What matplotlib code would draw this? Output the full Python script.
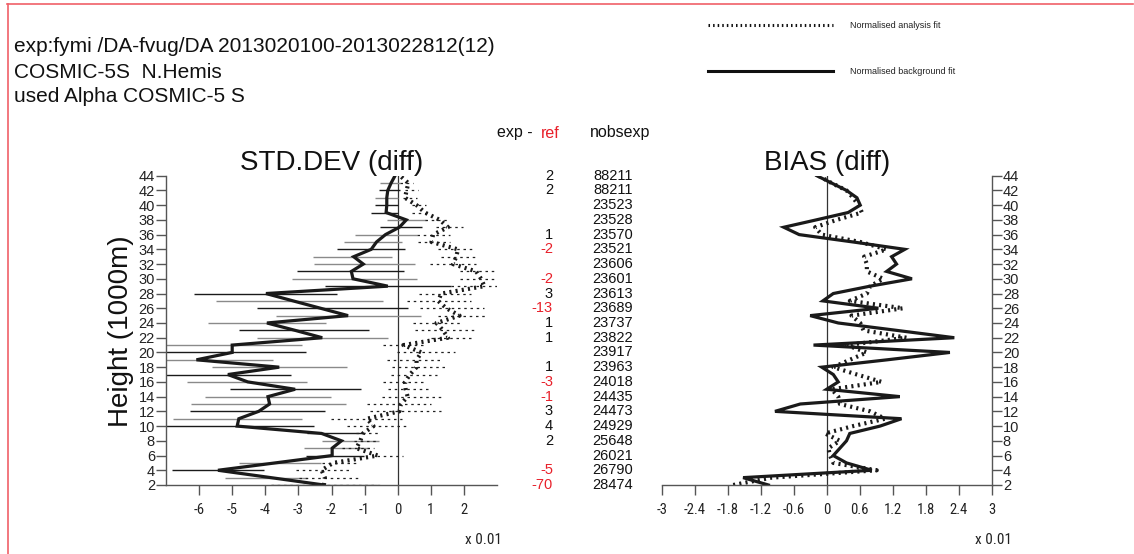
import numpy as np
import matplotlib
matplotlib.use("Agg")
import matplotlib.pyplot as plt
from matplotlib.transforms import blended_transform_factory
from matplotlib.lines import Line2D
from matplotlib import font_manager

plt.rcParams['font.family'] = ['Liberation Sans', 'DejaVu Sans']

# ---------------- data (levels 2..44, unit 0.01) ----------------
levels = list(range(2, 45))

bg_std = [-2.23, -3.83, -5.43, -3.7, -1.98, -1.98, -1.7, -2.3, -4.85, -4.8,
          -4.2, -3.87, -3.92, -3.1, -4.53, -5.13, -3.58, -6.08, -5.0, -5.0,
          -2.28, -3.1, -3.95, -1.5, -2.33, -3.16, -3.98, -0.3, -1.35, -1.4,
          -1.04, -1.33, -0.8, -0.64, -0.37, 0.05, 0.26, -0.35, -0.33, -0.33,
          -0.3, -0.2, -0.08]
bg_std_lo = [-3.83, -5.23, -6.83, -4.8, -2.76, -2.83, -2.28, -2.73, -7.0, -6.78,
             -6.28, -6.23, -5.83, -5.06, -6.38, -7.0, -5.61, -7.0, -7.0, -7.0,
             -4.25, -4.78, -5.73, -3.68, -4.26, -5.5, -6.16, -2.2, -3.18, -3.03,
             -2.53, -2.55, -1.83, -1.63, -1.28, -0.53, -0.33, -0.8, -0.68, -0.68,
             -0.58, -0.53, np.nan]
bg_std_hi = [-0.63, -2.73, -4.03, -2.33, -1.03, -0.88, -0.58, -1.0, -2.53, -2.88,
             -2.2, -1.55, -2.01, -1.11, -2.73, -3.21, -1.53, -3.78, -2.76, -2.88,
             -0.28, -0.86, -2.18, 0.69, 0.32, -0.45, -1.83, 1.6, 0.57, 0.2,
             0.52, -0.18, 0.22, 0.12, 0.57, 0.72, 0.87, 0.02, 0.02, 0.02,
             0.07, 0.07, np.nan]
bg_bar_gray = [1, 1, 0, 1, 0, 1, 1, 0, 0, 1,
               0, 1, 1, 0, 1, 0, 1, 1, 0, 1,
               1, 0, 1, 1, 0, 1, 0, 0, 1, 0,
               1, 1, 0, 1, 1, 0, 1, 0, 0, 1,
               0, 1, 0]

an_std = [-2.23, -2.2, -2.3, -1.95, -0.6, -1.25, -1.13, -1.05, -0.73, -0.93,
          0.05, 0.1, 0.3, 0.24, 0.22, 0.37, 0.57, 0.57, 0.72, 0.17,
          1.52, 1.37, 1.17, 1.87, 1.47, 1.22, 1.32, 2.62, 2.52, 2.37,
          1.67, 1.77, 1.82, 1.02, 1.07, 1.52, 1.27, 0.82, 0.57, 0.22,
          0.27, 0.32, 0.07]
an_std_lo = [-3.83, -2.98, -3.08, -2.3, -0.63, -1.68, -1.33, -1.25, -1.53, -2.01,
             -0.83, -0.93, -0.48, -0.28, -0.45, -0.2, -0.18, -0.33, -0.03, -0.43,
             1.02, 0.52, 0.47, 1.22, 0.67, 0.27, 0.65, 1.62, 1.87, 1.87,
             0.97, 1.32, 1.22, 0.62, 0.57, 1.17, 0.82, 0.42, 0.42, 0.17,
             0.22, 0.07, np.nan]
an_std_hi = [-0.48, -1.13, -1.48, -1.2, 0.15, -0.73, -0.58, -0.6, 0.27, 0.12,
             1.32, 1.02, 1.32, 0.97, 0.8, 1.2, 1.42, 1.27, 1.72, 0.87,
             2.27, 2.32, 1.87, 2.67, 2.62, 2.22, 2.22, 3.0, 3.0, 3.0,
             2.37, 2.37, 2.32, 1.57, 1.57, 1.97, 1.57, 0.92, 0.87, 0.57,
             0.62, 0.47, np.nan]

bg_bias = [-1.06, -1.52, 0.82, 0.36, 0.12, 0.24, 0.36, 0.42, 0.97, 1.36,
           -0.94, -0.48, 1.33, 0.0, 0.21, 0.12, -0.09, 1.1, 2.24, -0.24,
           2.32, 1.27, 0.21, -0.3, 0.94, -0.07, 0.12, 0.79, 1.55, 1.09,
           1.27, 1.18, 1.42, 0.48, -0.5, -0.78, -0.19, 0.39, 0.61, 0.55,
           0.36, 0.09, -0.18]
an_bias = [-1.7, -1.0, 0.91, 0.12, 0.06, 0.03, 0.24, -0.03, 0.48, 1.06,
           0.79, 0.24, 0.21, 0.09, 1.0, 0.55, 0.12, 0.42, 0.73, 0.36,
           1.45, 0.67, 0.61, 0.45, 1.39, 0.42, 0.73, 0.79, 1.03, 0.73,
           0.73, 0.68, 1.09, 0.61, -0.09, -0.21, 0.18, 0.64, 0.58, 0.48,
           0.36, 0.09, -0.15]

# table columns (levels 44 down to 2, step 2)
table_levels = list(range(44, 1, -2))
exp_ref = ["2", "2", "", "", "1", "-2", "", "-2", "3", "-13", "1",
           "1", "", "1", "-3", "-1", "3", "4", "2", "", "-5", "-70"]
nobsexp = ["88211", "88211", "23523", "23528", "23570", "23521", "23606",
           "23601", "23613", "23689", "23737", "23822", "23917", "23963",
           "24018", "24435", "24473", "24929", "25648", "26021", "26790", "28474"]

std_ticks = [-6, -5, -4, -3, -2, -1, 0, 1, 2]
bias_ticks = [-3, -2.4, -1.8, -1.2, -0.6, 0, 0.6, 1.2, 1.8, 2.4, 3]
bias_ticklabels = ["-3", "-2.4", "-1.8", "-1.2", "-0.6", "0", "0.6", "1.2", "1.8", "2.4", "3"]
y_ticks = list(range(2, 45, 2))

# ---------------- layout ----------------
W, H = 1134, 554
fig = plt.figure(figsize=(W / 100, H / 100), dpi=100)
fig.patch.set_facecolor("white")


def rect(x0, yt, x1, yb):
    return [x0 / W, 1 - yb / H, (x1 - x0) / W, (yb - yt) / H]


axis_col = "#555555"
available = {f.name for f in font_manager.fontManager.ttflist}
narrow = [f for f in ['Liberation Sans Narrow', 'DejaVu Sans Condensed', 'Roboto Condensed']
          if f in available] + ['Liberation Sans', 'DejaVu Sans']

axL = fig.add_axes(rect(166, 175.7, 497, 485))
axR = fig.add_axes(rect(661.7, 175.7, 991.7, 485))

for ax in (axL, axR):
    ax.set_ylim(2, 44)
    ax.set_yticks(y_ticks)
    for s in ax.spines.values():
        s.set_color(axis_col)
        s.set_linewidth(1.0)
    ax.tick_params(colors=axis_col, labelcolor="#222222", length=7, width=1.0)
    ax.tick_params(axis='y', labelsize=10.5, pad=1)
    ax.set_facecolor("none")

lv = np.array(levels)
dot_style = (0, (0.5, 1.0))

# left: STD.DEV
axL.set_xlim(-7, 3)
axL.spines['top'].set_visible(False)
axL.spines['right'].set_visible(False)
axL.set_xticks(std_ticks)
axL.set_xticklabels([str(t) for t in std_ticks], fontfamily=narrow, fontsize=10.5)
axL.tick_params(axis='x', pad=6)
axL.axvline(0, color="#333333", lw=0.9)
bar_cols = ["#8a8a8a" if g else "#1a1a1a" for g in bg_bar_gray]
axL.hlines(lv, bg_std_lo, bg_std_hi, colors=bar_cols, lw=1.0)
axL.hlines(lv, an_std_lo, an_std_hi, color="#222222", lw=0.9, linestyles=(0, (2, 3)))
axL.plot(bg_std, lv, color="#1a1a1a", lw=2.3, solid_joinstyle='miter')
axL.plot(an_std, lv, color="#1a1a1a", lw=3.0, linestyle=dot_style)
axL.set_title("STD.DEV (diff)", fontsize=20, pad=1, color="#111111")

# right: BIAS
axR.set_xlim(-3, 3)
axR.spines['top'].set_visible(False)
axR.spines['left'].set_visible(False)
axR.yaxis.tick_right()
axR.set_xticks(bias_ticks)
axR.set_xticklabels(bias_ticklabels, fontfamily=narrow, fontsize=10.5)
axR.tick_params(axis='x', pad=6)
axR.axvline(0, color="#333333", lw=0.9)
axR.plot(bg_bias, lv, color="#1a1a1a", lw=2.3, solid_joinstyle='miter')
axR.plot(an_bias, lv, color="#1a1a1a", lw=3.0, linestyle=dot_style)
axR.set_title("BIAS (diff)", fontsize=20, pad=1, color="#111111")

# y label
fig.text(121 / W, 1 - 331 / H, "Height (1000m)", rotation=90, fontsize=20,
         ha="center", va="center", color="#111111")

# middle table
tr = blended_transform_factory(fig.transFigure, axL.transData)
for lev, er, nb in zip(table_levels, exp_ref, nobsexp):
    col = "#e8202a" if er.startswith("-") else "#111111"
    fig.text(553 / W, lev, er, transform=tr, ha="right", va="center", fontsize=10.5, color=col)
    fig.text(633 / W, lev, nb, transform=tr, ha="right", va="center", fontsize=10.5, color="#111111")

fig.text(497 / W, 1 - 133 / H, "exp -", ha="left", va="center", fontsize=11.5, color="#111111")
fig.text(541 / W, 1 - 133 / H, "ref", ha="left", va="center", fontsize=11.5, color="#e8202a")
fig.text(590 / W, 1 - 133 / H, "nobsexp", ha="left", va="center", fontsize=11.5, color="#111111")

# header
hdr = ["exp:fymi /DA-fvug/DA 2013020100-2013022812(12)", "COSMIC-5S  N.Hemis",
       "used Alpha COSMIC-5 S"]
for i, t in enumerate(hdr):
    fig.text(14 / W, 1 - (47 + 25 * i) / H, t, ha="left", va="center", fontsize=15, color="#111111")

# legend
fig.add_artist(Line2D([708 / W, 833 / W], [1 - 25 / H, 1 - 25 / H], transform=fig.transFigure,
                      color="#111111", lw=2.2, linestyle=dot_style))
fig.add_artist(Line2D([708 / W, 833 / W], [1 - 71 / H, 1 - 71 / H], transform=fig.transFigure,
                      color="#111111", lw=2.2))
fig.text(850 / W, 1 - 25 / H, "Normalised analysis fit", ha="left", va="center", fontsize=6.5, color="#222222")
fig.text(850 / W, 1 - 71 / H, "Normalised background fit", ha="left", va="center", fontsize=6.5, color="#222222")

# x 0.01
fig.text(483 / W, 1 - 540 / H, "x 0.01", ha="center", va="center", fontsize=11, fontfamily=narrow, color="#222222")
fig.text(993 / W, 1 - 540 / H, "x 0.01", ha="center", va="center", fontsize=11, fontfamily=narrow, color="#222222")

# red frame (top and left)
red = "#f06068"
fig.add_artist(Line2D([7 / W, 1133 / W], [1 - 4 / H, 1 - 4 / H], transform=fig.transFigure, color=red, lw=1.2))
fig.add_artist(Line2D([7.5 / W, 7.5 / W], [0, 1 - 4 / H], transform=fig.transFigure, color=red, lw=1.2))

fig.savefig("out.png", dpi=100, facecolor="white")
